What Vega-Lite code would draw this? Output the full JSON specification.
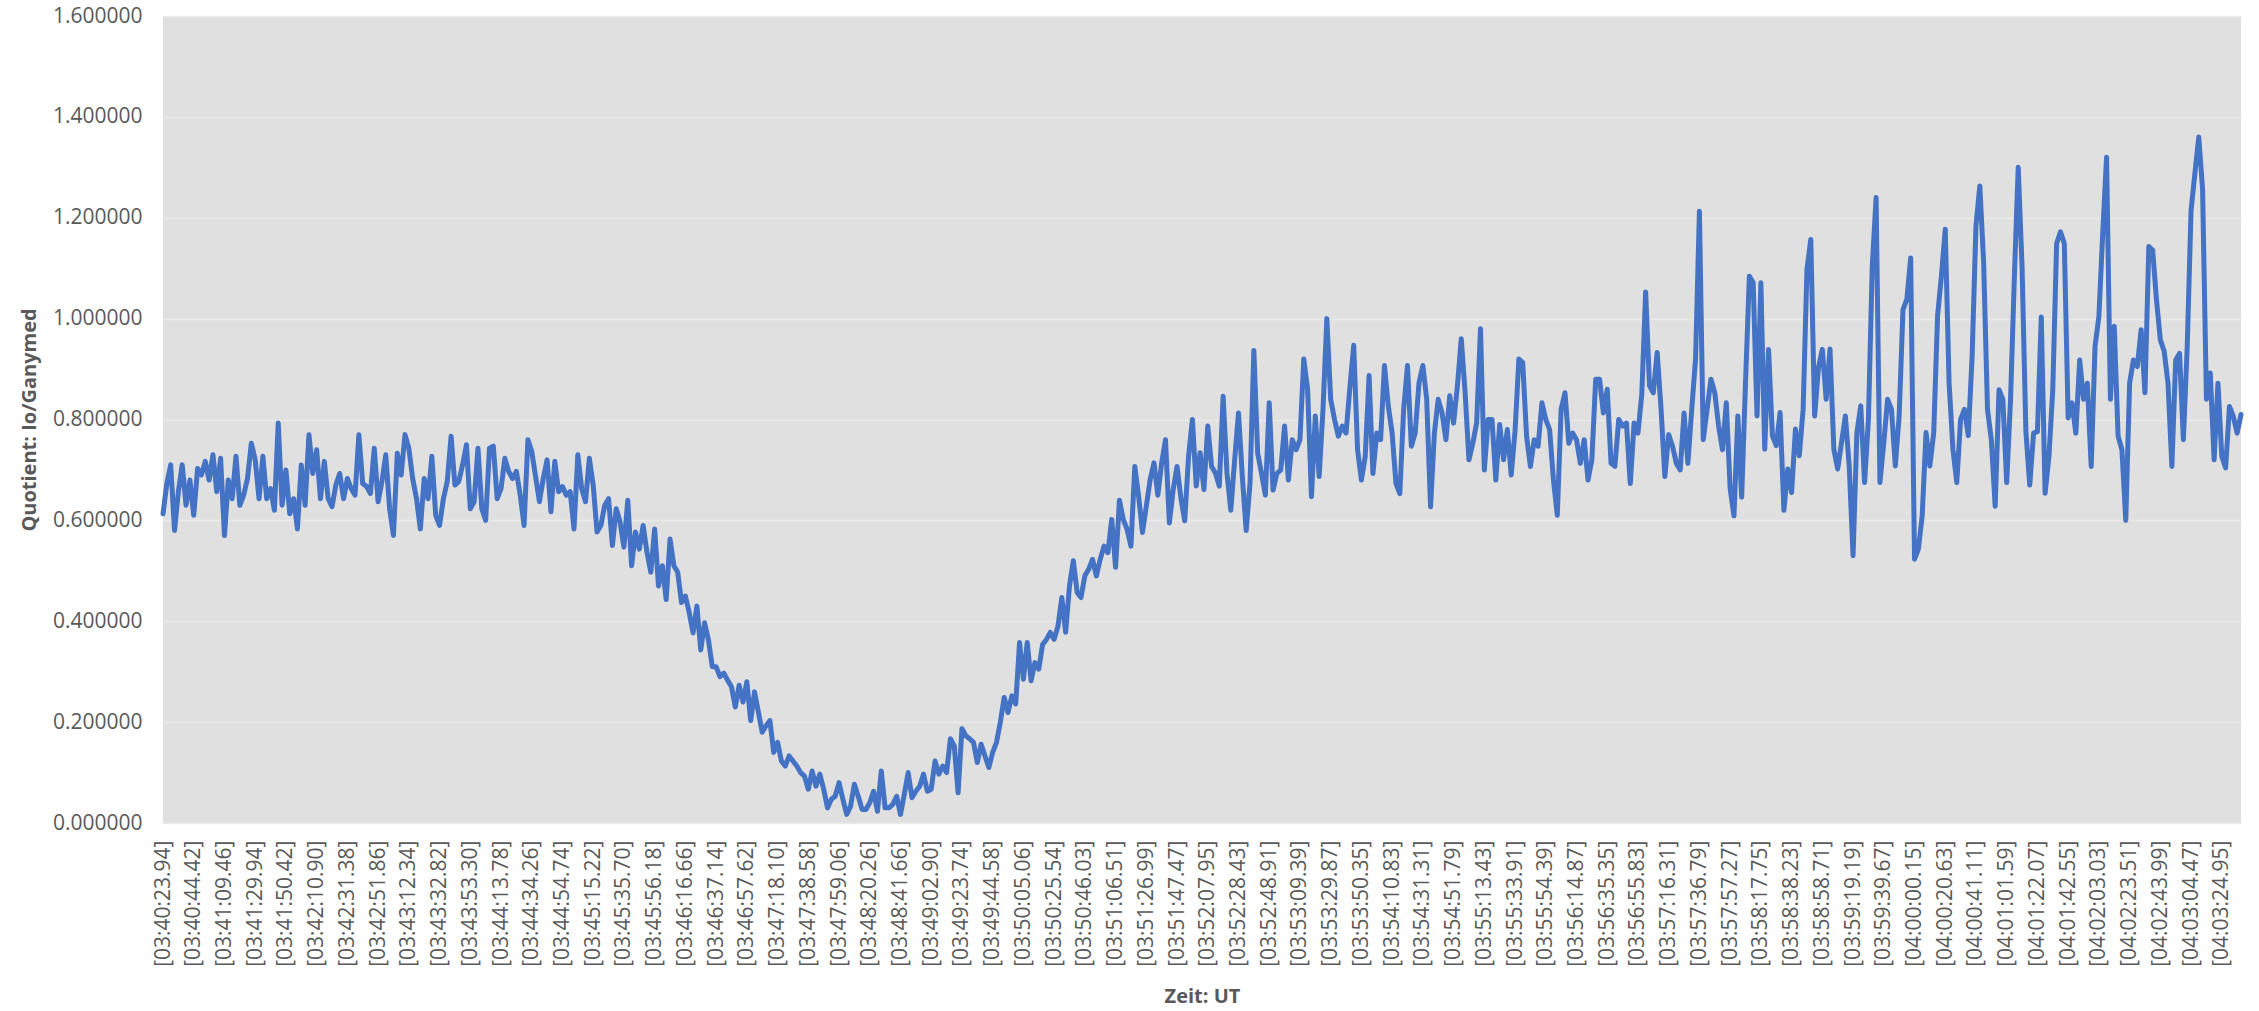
{
  "$schema": "https://vega.github.io/schema/vega-lite/v6.json",
  "width": 2078,
  "height": 807,
  "autosize": {"type": "none"},
  "padding": {"left": 163, "top": 16, "right": 18, "bottom": 188},
  "background": "#ffffff",
  "config": {"view": {"stroke": null, "fill": "#e0e0e0"}, "font": "Open Sans"},
  "data": {"values": [
    {"t":"03:40:23.94","v":0.613},{"t":"03:40:26.50","v":0.673},{"t":"03:40:29.06","v":0.71},{"t":"03:40:31.62","v":0.58},{"t":"03:40:34.18","v":0.657},{"t":"03:40:36.74","v":0.71},{"t":"03:40:39.30","v":0.63},{"t":"03:40:41.86","v":0.68},
    {"t":"03:40:44.42","v":0.61},{"t":"03:40:46.98","v":0.703},{"t":"03:40:49.54","v":0.69},{"t":"03:40:52.10","v":0.717},{"t":"03:40:54.66","v":0.68},{"t":"03:40:57.22","v":0.73},{"t":"03:40:59.78","v":0.657},{"t":"03:41:02.34","v":0.723},
    {"t":"03:41:09.46","v":0.57},{"t":"03:41:12.02","v":0.68},{"t":"03:41:14.58","v":0.643},{"t":"03:41:17.14","v":0.727},{"t":"03:41:19.70","v":0.63},{"t":"03:41:22.26","v":0.65},{"t":"03:41:24.82","v":0.683},{"t":"03:41:27.38","v":0.753},
    {"t":"03:41:29.94","v":0.72},{"t":"03:41:32.50","v":0.643},{"t":"03:41:35.06","v":0.727},{"t":"03:41:37.62","v":0.643},{"t":"03:41:40.18","v":0.663},{"t":"03:41:42.74","v":0.62},{"t":"03:41:45.30","v":0.793},{"t":"03:41:47.86","v":0.63},
    {"t":"03:41:50.42","v":0.70},{"t":"03:41:52.98","v":0.613},{"t":"03:41:55.54","v":0.643},{"t":"03:41:58.10","v":0.583},{"t":"03:42:00.66","v":0.71},{"t":"03:42:03.22","v":0.63},{"t":"03:42:05.78","v":0.77},{"t":"03:42:08.34","v":0.693},
    {"t":"03:42:10.90","v":0.74},{"t":"03:42:13.46","v":0.643},{"t":"03:42:16.02","v":0.717},{"t":"03:42:18.58","v":0.643},{"t":"03:42:21.14","v":0.627},{"t":"03:42:23.70","v":0.67},{"t":"03:42:26.26","v":0.693},{"t":"03:42:28.82","v":0.643},
    {"t":"03:42:31.38","v":0.683},{"t":"03:42:33.94","v":0.663},{"t":"03:42:36.50","v":0.65},{"t":"03:42:39.06","v":0.77},{"t":"03:42:41.62","v":0.673},{"t":"03:42:44.18","v":0.667},{"t":"03:42:46.74","v":0.653},{"t":"03:42:49.30","v":0.743},
    {"t":"03:42:51.86","v":0.637},{"t":"03:42:54.42","v":0.677},{"t":"03:42:56.98","v":0.73},{"t":"03:42:59.54","v":0.623},{"t":"03:43:02.10","v":0.57},{"t":"03:43:04.66","v":0.733},{"t":"03:43:07.22","v":0.69},{"t":"03:43:09.78","v":0.77},
    {"t":"03:43:12.34","v":0.743},{"t":"03:43:14.90","v":0.683},{"t":"03:43:17.46","v":0.643},{"t":"03:43:20.02","v":0.583},{"t":"03:43:22.58","v":0.683},{"t":"03:43:25.14","v":0.643},{"t":"03:43:27.70","v":0.727},{"t":"03:43:30.26","v":0.61},
    {"t":"03:43:32.82","v":0.59},{"t":"03:43:35.38","v":0.643},{"t":"03:43:37.94","v":0.677},{"t":"03:43:40.50","v":0.767},{"t":"03:43:43.06","v":0.67},{"t":"03:43:45.62","v":0.677},{"t":"03:43:48.18","v":0.71},{"t":"03:43:50.74","v":0.75},
    {"t":"03:43:53.30","v":0.623},{"t":"03:43:55.86","v":0.637},{"t":"03:43:58.42","v":0.743},{"t":"03:44:00.98","v":0.623},{"t":"03:44:03.54","v":0.60},{"t":"03:44:06.10","v":0.743},{"t":"03:44:08.66","v":0.747},{"t":"03:44:11.22","v":0.643},
    {"t":"03:44:13.78","v":0.663},{"t":"03:44:16.34","v":0.723},{"t":"03:44:18.90","v":0.697},{"t":"03:44:21.46","v":0.683},{"t":"03:44:24.02","v":0.697},{"t":"03:44:26.58","v":0.65},{"t":"03:44:29.14","v":0.59},{"t":"03:44:31.70","v":0.76},
    {"t":"03:44:34.26","v":0.737},{"t":"03:44:36.82","v":0.687},{"t":"03:44:39.38","v":0.637},{"t":"03:44:41.94","v":0.683},{"t":"03:44:44.50","v":0.72},{"t":"03:44:47.06","v":0.617},{"t":"03:44:49.62","v":0.717},{"t":"03:44:52.18","v":0.657},
    {"t":"03:44:54.74","v":0.667},{"t":"03:44:57.30","v":0.65},{"t":"03:44:59.86","v":0.657},{"t":"03:45:02.42","v":0.583},{"t":"03:45:04.98","v":0.73},{"t":"03:45:07.54","v":0.663},{"t":"03:45:10.10","v":0.637},{"t":"03:45:12.66","v":0.723},
    {"t":"03:45:15.22","v":0.67},{"t":"03:45:17.78","v":0.577},{"t":"03:45:20.34","v":0.59},{"t":"03:45:22.90","v":0.63},{"t":"03:45:25.46","v":0.643},{"t":"03:45:28.02","v":0.55},{"t":"03:45:30.58","v":0.623},{"t":"03:45:33.14","v":0.597},
    {"t":"03:45:35.70","v":0.547},{"t":"03:45:38.26","v":0.64},{"t":"03:45:40.82","v":0.51},{"t":"03:45:43.38","v":0.577},{"t":"03:45:45.94","v":0.543},{"t":"03:45:48.50","v":0.59},{"t":"03:45:51.06","v":0.537},{"t":"03:45:53.62","v":0.497},
    {"t":"03:45:56.18","v":0.583},{"t":"03:45:58.74","v":0.47},{"t":"03:46:01.30","v":0.51},{"t":"03:46:03.86","v":0.443},{"t":"03:46:06.42","v":0.563},{"t":"03:46:08.98","v":0.51},{"t":"03:46:11.54","v":0.497},{"t":"03:46:14.10","v":0.437},
    {"t":"03:46:16.66","v":0.45},{"t":"03:46:19.22","v":0.417},{"t":"03:46:21.78","v":0.377},{"t":"03:46:24.34","v":0.43},{"t":"03:46:26.90","v":0.343},{"t":"03:46:29.46","v":0.397},{"t":"03:46:32.02","v":0.363},{"t":"03:46:34.58","v":0.31},
    {"t":"03:46:37.14","v":0.31},{"t":"03:46:39.70","v":0.29},{"t":"03:46:42.26","v":0.297},{"t":"03:46:44.82","v":0.283},{"t":"03:46:47.38","v":0.27},{"t":"03:46:49.94","v":0.23},{"t":"03:46:52.50","v":0.273},{"t":"03:46:55.06","v":0.24},
    {"t":"03:46:57.62","v":0.28},{"t":"03:47:00.18","v":0.203},{"t":"03:47:02.74","v":0.26},{"t":"03:47:05.30","v":0.22},{"t":"03:47:07.86","v":0.18},{"t":"03:47:10.42","v":0.193},{"t":"03:47:12.98","v":0.203},{"t":"03:47:15.54","v":0.14},
    {"t":"03:47:18.10","v":0.16},{"t":"03:47:20.66","v":0.123},{"t":"03:47:23.22","v":0.113},{"t":"03:47:25.78","v":0.133},{"t":"03:47:28.34","v":0.123},{"t":"03:47:30.90","v":0.113},{"t":"03:47:33.46","v":0.1},{"t":"03:47:36.02","v":0.093},
    {"t":"03:47:38.58","v":0.067},{"t":"03:47:41.14","v":0.103},{"t":"03:47:43.70","v":0.073},{"t":"03:47:46.26","v":0.097},{"t":"03:47:48.82","v":0.067},{"t":"03:47:51.38","v":0.03},{"t":"03:47:53.94","v":0.047},{"t":"03:47:56.50","v":0.053},
    {"t":"03:47:59.06","v":0.08},{"t":"03:48:01.62","v":0.047},{"t":"03:48:04.18","v":0.017},{"t":"03:48:06.74","v":0.033},{"t":"03:48:09.30","v":0.077},{"t":"03:48:11.86","v":0.053},{"t":"03:48:14.42","v":0.027},{"t":"03:48:16.98","v":0.027},
    {"t":"03:48:20.26","v":0.04},{"t":"03:48:22.82","v":0.063},{"t":"03:48:25.38","v":0.023},{"t":"03:48:27.94","v":0.103},{"t":"03:48:30.50","v":0.03},{"t":"03:48:33.06","v":0.03},{"t":"03:48:35.62","v":0.037},{"t":"03:48:38.18","v":0.053},
    {"t":"03:48:41.66","v":0.017},{"t":"03:48:44.22","v":0.057},{"t":"03:48:46.78","v":0.1},{"t":"03:48:49.34","v":0.05},{"t":"03:48:51.90","v":0.063},{"t":"03:48:54.46","v":0.073},{"t":"03:48:57.02","v":0.097},{"t":"03:48:59.58","v":0.063},
    {"t":"03:49:02.90","v":0.067},{"t":"03:49:05.46","v":0.123},{"t":"03:49:08.02","v":0.097},{"t":"03:49:10.58","v":0.113},{"t":"03:49:13.14","v":0.1},{"t":"03:49:15.70","v":0.167},{"t":"03:49:18.26","v":0.153},{"t":"03:49:20.82","v":0.06},
    {"t":"03:49:23.74","v":0.187},{"t":"03:49:26.30","v":0.173},{"t":"03:49:28.86","v":0.167},{"t":"03:49:31.42","v":0.16},{"t":"03:49:33.98","v":0.12},{"t":"03:49:36.54","v":0.156},{"t":"03:49:39.10","v":0.133},{"t":"03:49:41.66","v":0.11},
    {"t":"03:49:44.58","v":0.14},{"t":"03:49:47.14","v":0.16},{"t":"03:49:49.70","v":0.2},{"t":"03:49:52.26","v":0.249},{"t":"03:49:54.82","v":0.219},{"t":"03:49:57.38","v":0.252},{"t":"03:49:59.94","v":0.236},{"t":"03:50:02.50","v":0.358},
    {"t":"03:50:05.06","v":0.285},{"t":"03:50:07.62","v":0.358},{"t":"03:50:10.18","v":0.282},{"t":"03:50:12.74","v":0.318},{"t":"03:50:15.30","v":0.305},{"t":"03:50:17.86","v":0.354},{"t":"03:50:20.42","v":0.364},{"t":"03:50:22.98","v":0.378},
    {"t":"03:50:25.54","v":0.364},{"t":"03:50:28.10","v":0.39},{"t":"03:50:30.66","v":0.447},{"t":"03:50:33.22","v":0.378},{"t":"03:50:35.78","v":0.47},{"t":"03:50:38.34","v":0.52},{"t":"03:50:40.90","v":0.457},{"t":"03:50:43.46","v":0.447},
    {"t":"03:50:46.03","v":0.49},{"t":"03:50:48.59","v":0.503},{"t":"03:50:51.15","v":0.523},{"t":"03:50:53.71","v":0.49},{"t":"03:50:56.27","v":0.523},{"t":"03:50:58.83","v":0.549},{"t":"03:51:01.39","v":0.536},{"t":"03:51:03.95","v":0.602},
    {"t":"03:51:06.51","v":0.507},{"t":"03:51:09.07","v":0.64},{"t":"03:51:11.63","v":0.602},{"t":"03:51:14.19","v":0.582},{"t":"03:51:16.75","v":0.549},{"t":"03:51:19.31","v":0.707},{"t":"03:51:21.87","v":0.648},{"t":"03:51:24.43","v":0.576},
    {"t":"03:51:26.99","v":0.628},{"t":"03:51:29.55","v":0.681},{"t":"03:51:32.11","v":0.714},{"t":"03:51:34.67","v":0.65},{"t":"03:51:37.23","v":0.714},{"t":"03:51:39.79","v":0.76},{"t":"03:51:42.35","v":0.595},{"t":"03:51:44.91","v":0.661},
    {"t":"03:51:47.47","v":0.707},{"t":"03:51:50.03","v":0.645},{"t":"03:51:52.59","v":0.599},{"t":"03:51:55.15","v":0.727},{"t":"03:51:57.71","v":0.8},{"t":"03:52:00.27","v":0.668},{"t":"03:52:02.83","v":0.734},{"t":"03:52:05.39","v":0.661},
    {"t":"03:52:07.95","v":0.787},{"t":"03:52:10.51","v":0.707},{"t":"03:52:13.07","v":0.694},{"t":"03:52:15.63","v":0.668},{"t":"03:52:18.19","v":0.846},{"t":"03:52:20.75","v":0.694},{"t":"03:52:23.31","v":0.62},{"t":"03:52:25.87","v":0.72},
    {"t":"03:52:28.43","v":0.813},{"t":"03:52:30.99","v":0.687},{"t":"03:52:33.55","v":0.58},{"t":"03:52:36.11","v":0.673},{"t":"03:52:38.67","v":0.937},{"t":"03:52:41.23","v":0.733},{"t":"03:52:43.79","v":0.693},{"t":"03:52:46.35","v":0.65},
    {"t":"03:52:48.91","v":0.833},{"t":"03:52:51.47","v":0.66},{"t":"03:52:54.03","v":0.693},{"t":"03:52:56.59","v":0.7},{"t":"03:52:59.15","v":0.787},{"t":"03:53:01.71","v":0.68},{"t":"03:53:04.27","v":0.76},{"t":"03:53:06.83","v":0.74},
    {"t":"03:53:09.39","v":0.76},{"t":"03:53:11.95","v":0.92},{"t":"03:53:14.51","v":0.86},{"t":"03:53:17.07","v":0.647},{"t":"03:53:19.63","v":0.807},{"t":"03:53:22.19","v":0.687},{"t":"03:53:24.75","v":0.82},{"t":"03:53:27.31","v":1.0},
    {"t":"03:53:29.87","v":0.84},{"t":"03:53:32.43","v":0.8},{"t":"03:53:34.99","v":0.767},{"t":"03:53:37.55","v":0.787},{"t":"03:53:40.11","v":0.773},{"t":"03:53:42.67","v":0.863},{"t":"03:53:45.23","v":0.947},{"t":"03:53:47.79","v":0.74},
    {"t":"03:53:50.35","v":0.68},{"t":"03:53:52.91","v":0.727},{"t":"03:53:55.47","v":0.887},{"t":"03:53:58.03","v":0.693},{"t":"03:54:00.59","v":0.773},{"t":"03:54:03.15","v":0.76},{"t":"03:54:05.71","v":0.907},{"t":"03:54:08.27","v":0.827},
    {"t":"03:54:10.83","v":0.773},{"t":"03:54:13.39","v":0.673},{"t":"03:54:15.95","v":0.653},{"t":"03:54:18.51","v":0.82},{"t":"03:54:21.07","v":0.907},{"t":"03:54:23.63","v":0.747},{"t":"03:54:26.19","v":0.773},{"t":"03:54:28.75","v":0.873},
    {"t":"03:54:31.31","v":0.907},{"t":"03:54:33.87","v":0.84},{"t":"03:54:36.43","v":0.627},{"t":"03:54:38.99","v":0.773},{"t":"03:54:41.55","v":0.84},{"t":"03:54:44.11","v":0.813},{"t":"03:54:46.67","v":0.76},{"t":"03:54:49.23","v":0.847},
    {"t":"03:54:51.79","v":0.793},{"t":"03:54:54.35","v":0.867},{"t":"03:54:56.91","v":0.96},{"t":"03:54:59.47","v":0.853},{"t":"03:55:02.03","v":0.72},{"t":"03:55:04.59","v":0.753},{"t":"03:55:07.15","v":0.793},{"t":"03:55:09.71","v":0.98},
    {"t":"03:55:13.43","v":0.7},{"t":"03:55:15.99","v":0.8},{"t":"03:55:18.55","v":0.8},{"t":"03:55:21.11","v":0.68},{"t":"03:55:23.67","v":0.79},{"t":"03:55:26.23","v":0.72},{"t":"03:55:28.79","v":0.78},{"t":"03:55:31.35","v":0.69},
    {"t":"03:55:33.91","v":0.777},{"t":"03:55:36.47","v":0.92},{"t":"03:55:39.03","v":0.913},{"t":"03:55:41.59","v":0.767},{"t":"03:55:44.15","v":0.707},{"t":"03:55:46.71","v":0.76},{"t":"03:55:49.27","v":0.747},{"t":"03:55:51.83","v":0.833},
    {"t":"03:55:54.39","v":0.8},{"t":"03:55:56.95","v":0.78},{"t":"03:55:59.51","v":0.68},{"t":"03:56:02.07","v":0.61},{"t":"03:56:04.63","v":0.82},{"t":"03:56:07.19","v":0.853},{"t":"03:56:09.75","v":0.753},{"t":"03:56:12.31","v":0.773},
    {"t":"03:56:14.87","v":0.76},{"t":"03:56:17.43","v":0.713},{"t":"03:56:19.99","v":0.76},{"t":"03:56:22.55","v":0.68},{"t":"03:56:25.11","v":0.72},{"t":"03:56:27.67","v":0.88},{"t":"03:56:30.23","v":0.88},{"t":"03:56:32.79","v":0.813},
    {"t":"03:56:35.35","v":0.86},{"t":"03:56:37.91","v":0.713},{"t":"03:56:40.47","v":0.707},{"t":"03:56:43.03","v":0.8},{"t":"03:56:45.59","v":0.787},{"t":"03:56:48.15","v":0.793},{"t":"03:56:50.71","v":0.673},{"t":"03:56:53.27","v":0.793},
    {"t":"03:56:55.83","v":0.773},{"t":"03:56:58.39","v":0.85},{"t":"03:57:00.95","v":1.053},{"t":"03:57:03.51","v":0.867},{"t":"03:57:06.07","v":0.853},{"t":"03:57:08.63","v":0.933},{"t":"03:57:11.19","v":0.823},{"t":"03:57:13.75","v":0.687},
    {"t":"03:57:16.31","v":0.77},{"t":"03:57:18.87","v":0.747},{"t":"03:57:21.43","v":0.713},{"t":"03:57:23.99","v":0.7},{"t":"03:57:26.55","v":0.813},{"t":"03:57:29.11","v":0.713},{"t":"03:57:31.67","v":0.82},{"t":"03:57:34.23","v":0.92},
    {"t":"03:57:36.79","v":1.213},{"t":"03:57:39.35","v":0.76},{"t":"03:57:41.91","v":0.82},{"t":"03:57:44.47","v":0.88},{"t":"03:57:47.03","v":0.853},{"t":"03:57:49.59","v":0.787},{"t":"03:57:52.15","v":0.74},{"t":"03:57:54.71","v":0.833},
    {"t":"03:57:57.27","v":0.663},{"t":"03:57:59.83","v":0.609},{"t":"03:58:02.39","v":0.807},{"t":"03:58:04.95","v":0.646},{"t":"03:58:07.51","v":0.873},{"t":"03:58:10.07","v":1.084},{"t":"03:58:12.63","v":1.071},{"t":"03:58:15.19","v":0.807},
    {"t":"03:58:17.75","v":1.071},{"t":"03:58:20.31","v":0.741},{"t":"03:58:22.87","v":0.939},{"t":"03:58:25.43","v":0.768},{"t":"03:58:27.99","v":0.748},{"t":"03:58:30.55","v":0.814},{"t":"03:58:33.11","v":0.62},{"t":"03:58:35.67","v":0.702},
    {"t":"03:58:38.23","v":0.655},{"t":"03:58:40.79","v":0.781},{"t":"03:58:43.35","v":0.728},{"t":"03:58:45.91","v":0.82},{"t":"03:58:48.47","v":1.098},{"t":"03:58:51.03","v":1.157},{"t":"03:58:53.59","v":0.807},{"t":"03:58:56.15","v":0.903},
    {"t":"03:58:58.71","v":0.939},{"t":"03:59:01.27","v":0.84},{"t":"03:59:03.83","v":0.94},{"t":"03:59:06.39","v":0.741},{"t":"03:59:08.95","v":0.702},{"t":"03:59:11.51","v":0.754},{"t":"03:59:14.07","v":0.807},{"t":"03:59:16.63","v":0.708},
    {"t":"03:59:19.19","v":0.53},{"t":"03:59:21.75","v":0.774},{"t":"03:59:24.31","v":0.827},{"t":"03:59:26.87","v":0.675},{"t":"03:59:29.43","v":0.8},{"t":"03:59:31.99","v":1.104},{"t":"03:59:34.55","v":1.24},{"t":"03:59:37.11","v":0.675},
    {"t":"03:59:39.67","v":0.754},{"t":"03:59:42.23","v":0.84},{"t":"03:59:44.79","v":0.82},{"t":"03:59:47.35","v":0.708},{"t":"03:59:49.91","v":0.807},{"t":"03:59:52.47","v":1.018},{"t":"03:59:55.03","v":1.038},{"t":"03:59:57.59","v":1.12},
    {"t":"04:00:00.15","v":0.523},{"t":"04:00:02.71","v":0.543},{"t":"04:00:05.27","v":0.609},{"t":"04:00:07.83","v":0.774},{"t":"04:00:10.39","v":0.708},{"t":"04:00:12.95","v":0.774},{"t":"04:00:15.51","v":1.005},{"t":"04:00:18.07","v":1.084},
    {"t":"04:00:20.63","v":1.177},{"t":"04:00:23.19","v":0.873},{"t":"04:00:25.75","v":0.741},{"t":"04:00:28.31","v":0.675},{"t":"04:00:30.87","v":0.8},{"t":"04:00:33.43","v":0.82},{"t":"04:00:35.99","v":0.768},{"t":"04:00:38.55","v":0.926},
    {"t":"04:00:41.11","v":1.184},{"t":"04:00:43.67","v":1.263},{"t":"04:00:46.23","v":1.111},{"t":"04:00:48.79","v":0.82},{"t":"04:00:51.35","v":0.76},{"t":"04:00:53.91","v":0.628},{"t":"04:00:56.47","v":0.859},{"t":"04:00:59.03","v":0.84},
    {"t":"04:01:01.59","v":0.675},{"t":"04:01:04.15","v":0.84},{"t":"04:01:06.71","v":1.083},{"t":"04:01:09.27","v":1.3},{"t":"04:01:11.83","v":1.103},{"t":"04:01:14.39","v":0.776},{"t":"04:01:16.95","v":0.67},{"t":"04:01:19.51","v":0.773},
    {"t":"04:01:22.07","v":0.776},{"t":"04:01:24.63","v":1.003},{"t":"04:01:27.19","v":0.654},{"t":"04:01:29.75","v":0.727},{"t":"04:01:32.31","v":0.86},{"t":"04:01:34.87","v":1.149},{"t":"04:01:37.43","v":1.172},{"t":"04:01:39.99","v":1.149},
    {"t":"04:01:42.55","v":0.803},{"t":"04:01:45.11","v":0.833},{"t":"04:01:47.67","v":0.773},{"t":"04:01:50.23","v":0.918},{"t":"04:01:52.79","v":0.84},{"t":"04:01:55.35","v":0.872},{"t":"04:01:57.91","v":0.707},{"t":"04:02:00.47","v":0.945},
    {"t":"04:02:03.03","v":1.004},{"t":"04:02:05.59","v":1.169},{"t":"04:02:08.15","v":1.32},{"t":"04:02:10.71","v":0.84},{"t":"04:02:13.27","v":0.985},{"t":"04:02:15.83","v":0.767},{"t":"04:02:18.39","v":0.74},{"t":"04:02:20.95","v":0.6},
    {"t":"04:02:23.51","v":0.872},{"t":"04:02:26.07","v":0.918},{"t":"04:02:28.63","v":0.905},{"t":"04:02:31.19","v":0.978},{"t":"04:02:33.75","v":0.853},{"t":"04:02:36.31","v":1.143},{"t":"04:02:38.87","v":1.136},{"t":"04:02:41.43","v":1.037},
    {"t":"04:02:43.99","v":0.958},{"t":"04:02:46.55","v":0.935},{"t":"04:02:49.11","v":0.872},{"t":"04:02:51.67","v":0.707},{"t":"04:02:54.23","v":0.918},{"t":"04:02:56.79","v":0.931},{"t":"04:02:59.35","v":0.76},{"t":"04:03:01.91","v":0.945},
    {"t":"04:03:04.47","v":1.215},{"t":"04:03:07.03","v":1.288},{"t":"04:03:09.59","v":1.36},{"t":"04:03:12.15","v":1.256},{"t":"04:03:14.71","v":0.84},{"t":"04:03:17.27","v":0.892},{"t":"04:03:19.83","v":0.72},{"t":"04:03:22.39","v":0.872},
    {"t":"04:03:24.95","v":0.727},{"t":"04:03:27.51","v":0.704},{"t":"04:03:30.07","v":0.826},{"t":"04:03:32.63","v":0.806},{"t":"04:03:35.19","v":0.773},{"t":"04:03:37.75","v":0.81}
  ]},
  "mark": {"type": "line", "color": "#4472C4", "strokeWidth": 5, "strokeJoin": "round", "strokeCap": "round"},
  "encoding": {
    "x": {
      "field": "t",
      "type": "ordinal",
      "sort": null,
      "scale": {"type": "point", "padding": 0},
      "axis": {
        "title": "Zeit: UT",
        "values": ["03:40:23.94","03:40:44.42","03:41:09.46","03:41:29.94","03:41:50.42","03:42:10.90","03:42:31.38","03:42:51.86","03:43:12.34","03:43:32.82","03:43:53.30","03:44:13.78","03:44:34.26","03:44:54.74","03:45:15.22","03:45:35.70","03:45:56.18","03:46:16.66","03:46:37.14","03:46:57.62","03:47:18.10","03:47:38.58","03:47:59.06","03:48:20.26","03:48:41.66","03:49:02.90","03:49:23.74","03:49:44.58","03:50:05.06","03:50:25.54","03:50:46.03","03:51:06.51","03:51:26.99","03:51:47.47","03:52:07.95","03:52:28.43","03:52:48.91","03:53:09.39","03:53:29.87","03:53:50.35","03:54:10.83","03:54:31.31","03:54:51.79","03:55:13.43","03:55:33.91","03:55:54.39","03:56:14.87","03:56:35.35","03:56:55.83","03:57:16.31","03:57:36.79","03:57:57.27","03:58:17.75","03:58:38.23","03:58:58.71","03:59:19.19","03:59:39.67","04:00:00.15","04:00:20.63","04:00:41.11","04:01:01.59","04:01:22.07","04:01:42.55","04:02:03.03","04:02:23.51","04:02:43.99","04:03:04.47","04:03:24.95"],
        "labelExpr": "'[' + datum.label + ']'",
        "labelAngle": -90,
        "labelFontSize": 21,
        "labelColor": "#595959",
        "labelPadding": 17,
        "labelOverlap": false,
        "ticks": false,
        "domain": false,
        "grid": false,
        "titleFontSize": 20,
        "titleFontWeight": "bold",
        "titleColor": "#595959",
        "titlePadding": 20
      }
    },
    "y": {
      "field": "v",
      "type": "quantitative",
      "scale": {"domain": [0, 1.6], "nice": false},
      "axis": {
        "title": "Quotient: Io/Ganymed",
        "values": [0, 0.2, 0.4, 0.6, 0.8, 1.0, 1.2, 1.4, 1.6],
        "format": ".6f",
        "labelFontSize": 21,
        "labelColor": "#595959",
        "labelPadding": 21,
        "ticks": false,
        "domain": false,
        "grid": true,
        "gridColor": "#e9e9e9",
        "gridWidth": 1.5,
        "titleFontSize": 20,
        "titleFontWeight": "bold",
        "titleColor": "#595959",
        "titlePadding": 13
      }
    }
  }
}
